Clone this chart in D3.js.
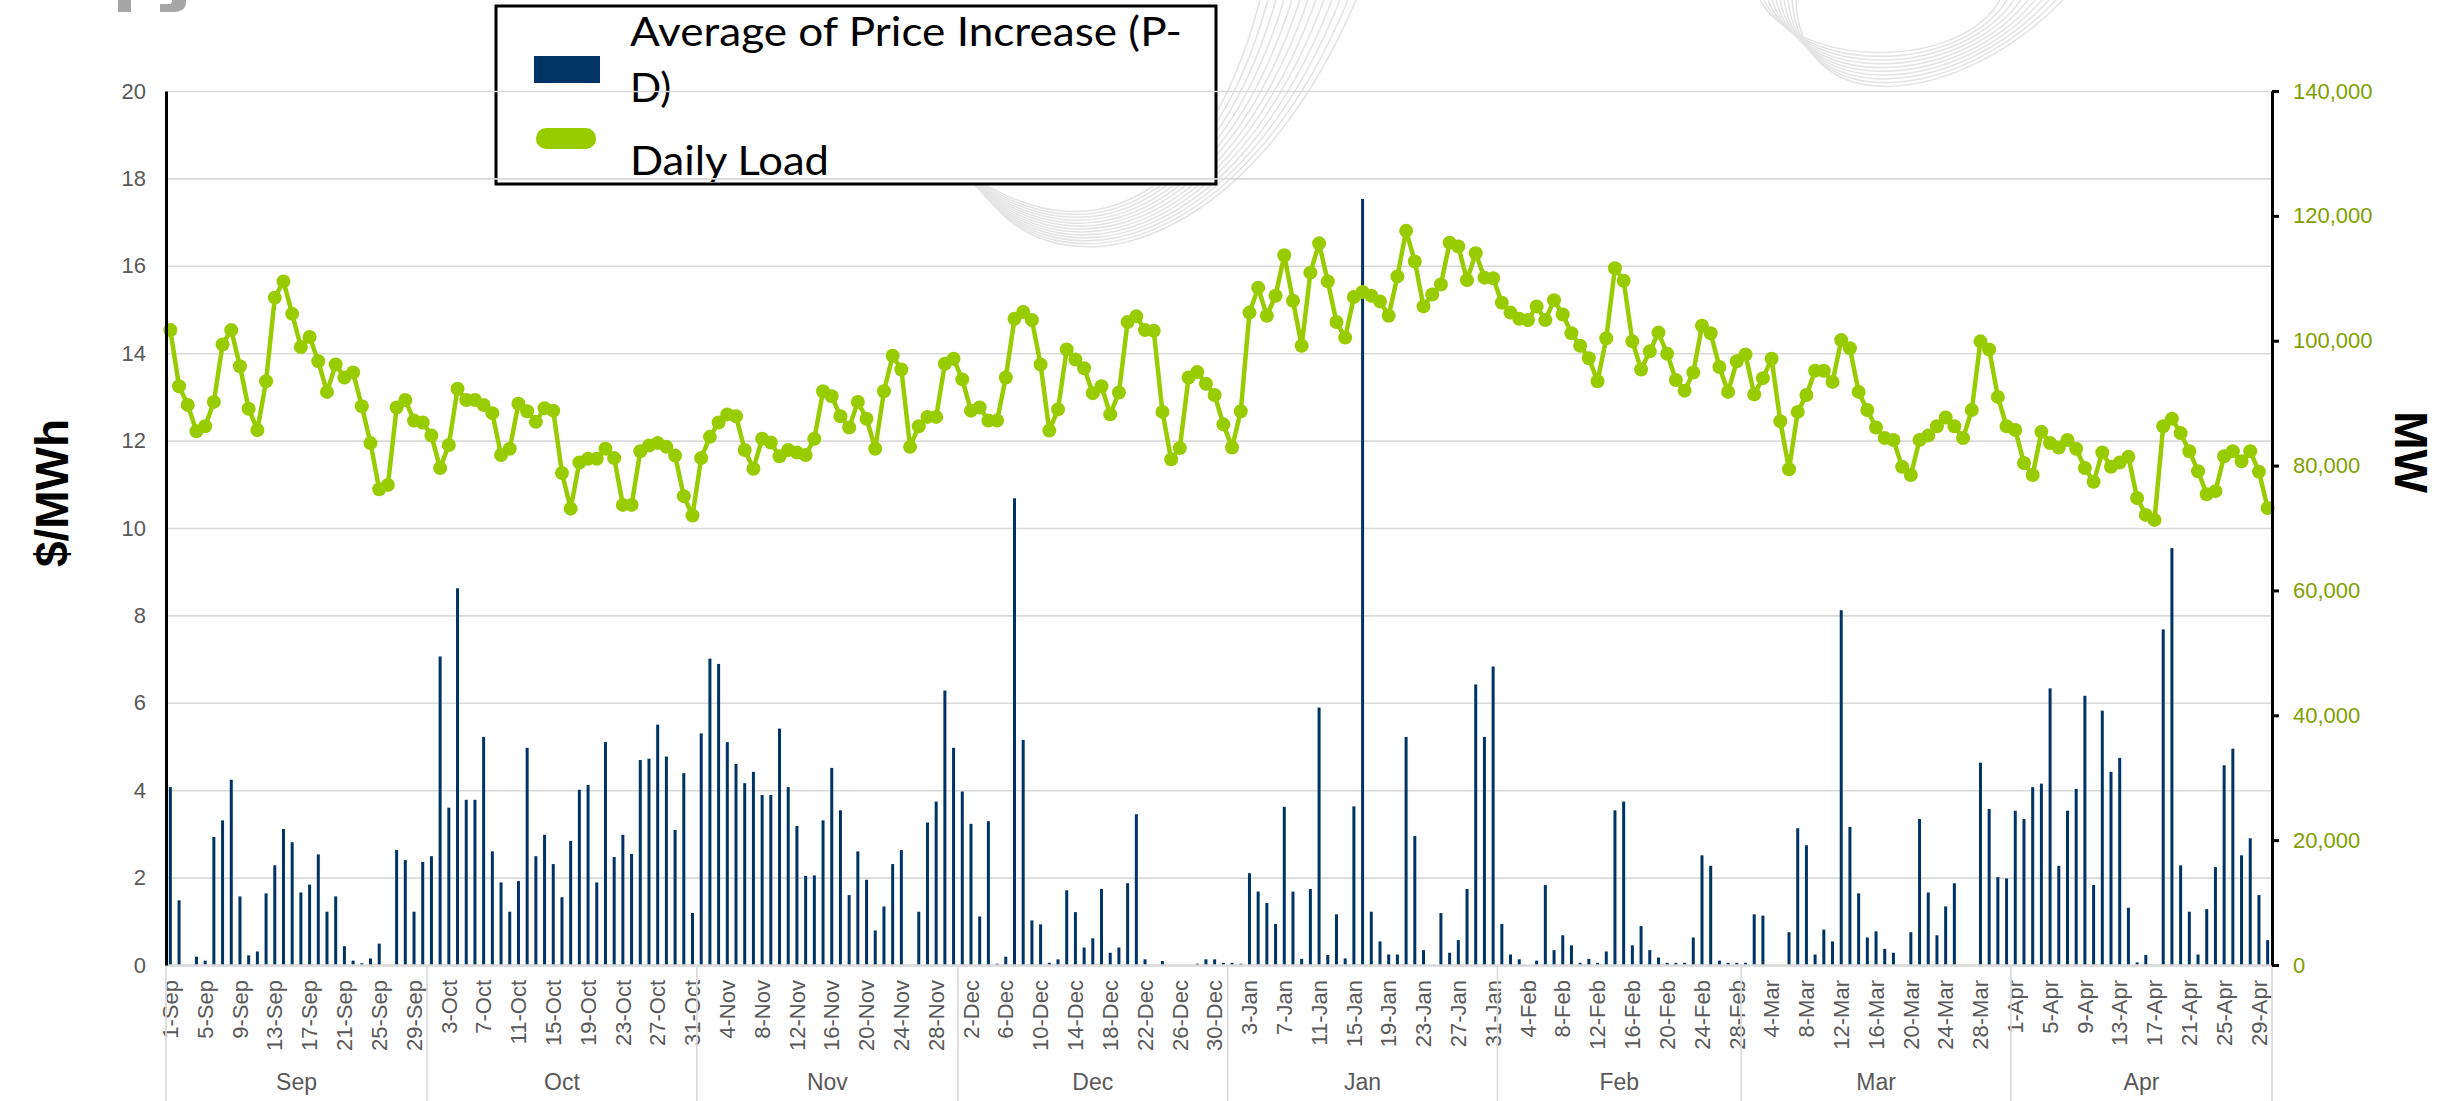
<!DOCTYPE html>
<html>
<head>
<meta charset="utf-8">
<script src="https://cdn.jsdelivr.net/npm/d3@7/dist/d3.min.js"></script>
<style>
  body { margin: 0; background: #fff; }
  svg { display: block; }
</style>
</head>
<body>
<div id="chart"></div>
<script>
// category axis: months and how many days each has
var months = ["Sep", "Oct", "Nov", "Dec", "Jan", "Feb", "Mar", "Apr"];
var monthDays = [30, 31, 30, 31, 31, 28, 31, 30];

// Average of Price Increase (P-D), $/MWh, one value per day
var priceIncrease = [
  // Sep
  4.07, 1.48, 0, 0.19, 0.1, 2.93, 3.31, 4.24, 1.57, 0.22, 0.31, 1.64, 2.28, 3.11, 2.81,
  1.66, 1.84, 2.53, 1.22, 1.57, 0.43, 0.1, 0.04, 0.15, 0.49, 0, 2.63, 2.4, 1.22, 2.36,
  // Oct
  2.49, 7.06, 3.6, 8.62, 3.78, 3.78, 5.22, 2.6, 1.89, 1.22, 1.92, 4.97, 2.49, 2.98, 2.31,
  1.55, 2.84, 4.01, 4.12, 1.89, 5.1, 2.47, 2.98, 2.54, 4.69, 4.72, 5.5, 4.77, 3.09, 4.39, 1.19,
  // Nov
  5.3, 7.01, 6.89, 5.1, 4.6, 4.16, 4.42, 3.89, 3.89, 5.41, 4.07, 3.18, 2.04, 2.05, 3.31,
  4.51, 3.54, 1.6, 2.6, 1.95, 0.79, 1.34, 2.31, 2.63, 0, 1.22, 3.26, 3.74, 6.28, 4.97,
  // Dec
  3.97, 3.23, 1.11, 3.29, 0.03, 0.19, 10.68, 5.15, 1.02, 0.93, 0.05, 0.13, 1.71, 1.21, 0.4,
  0.61, 1.74, 0.28, 0.4, 1.87, 3.45, 0.13, 0, 0.09, 0, 0, 0, 0.03, 0.13, 0.13, 0.05,
  // Jan
  0.05, 0.03, 2.1, 1.68, 1.42, 0.94, 3.62, 1.68, 0.14, 1.74, 5.89, 0.23, 1.16, 0.15, 3.63,
  17.53, 1.22, 0.54, 0.24, 0.24, 5.22, 2.95, 0.34, 0, 1.19, 0.28, 0.57, 1.74, 6.42, 5.22, 6.83,
  // Feb
  0.94, 0.24, 0.13, 0, 0.1, 1.83, 0.34, 0.68, 0.45, 0.05, 0.14, 0.05, 0.31, 3.54, 3.74,
  0.45, 0.89, 0.34, 0.17, 0.05, 0.05, 0.05, 0.63, 2.51, 2.27, 0.1, 0.05, 0.05,
  // Mar
  0.05, 1.16, 1.13, 0, 0, 0.75, 3.13, 2.74, 0.24, 0.81, 0.54, 8.12, 3.16, 1.64, 0.63,
  0.77, 0.37, 0.28, 0, 0.75, 3.34, 1.66, 0.68, 1.34, 1.87, 0, 0, 4.63, 3.57, 2.01, 1.98,
  // Apr
  3.53, 3.34, 4.07, 4.15, 6.33, 2.27, 3.53, 4.03, 6.16, 1.83, 5.82, 4.42, 4.74, 1.31, 0.06,
  0.23, 0, 7.68, 9.54, 2.28, 1.22, 0.24, 1.28, 2.24, 4.57, 4.95, 2.51, 2.9, 1.6, 0.57
];

// Daily Load, MW
var dailyLoad = [
  // Sep
  101700, 92700, 89700, 85500, 86300, 90200, 99400, 101700, 95900, 89100, 85700, 93500, 106900, 109500, 104300,
  99000, 100600, 96700, 91800, 96200, 94100, 94900, 89500, 83600, 76200, 76900, 89300, 90500, 87200, 86900,
  // Oct
  84800, 79600, 83300, 92300, 90500, 90500, 89700, 88400, 81700, 82700, 89900, 88700, 87000, 89200, 88800,
  78800, 73100, 80500, 81100, 81100, 82700, 81200, 73700, 73700, 82300, 83200, 83600, 83000, 81600, 75100, 72000,
  // Nov
  81200, 84600, 86900, 88200, 87900, 82500, 79500, 84300, 83700, 81500, 82500, 82100, 81700, 84300, 91900,
  91100, 87900, 86100, 90200, 87500, 82700, 91900, 97600, 95400, 83000, 86300, 87800, 87800, 96300, 97100,
  // Dec
  93800, 88800, 89300, 87200, 87200, 94100, 103500, 104600, 103300, 96200, 85600, 89000, 98600, 97000, 95600,
  91600, 92700, 88200, 91700, 103000, 103900, 101700, 101600, 88600, 81000, 82800, 94100, 95000, 93100, 91300, 86600,
  // Jan
  82900, 88700, 104500, 108500, 104000, 107200, 113700, 106400, 99200, 110900, 115600, 109500, 103000, 100500, 107000,
  107800, 107200, 106300, 104000, 110300, 117600, 112700, 105500, 107400, 109000, 115700, 115100, 109700, 114000, 110100, 110000,
  // Feb
  106100, 104500, 103500, 103300, 105500, 103300, 106500, 104200, 101200, 99200, 97200, 93500, 100400, 111600, 109600,
  99900, 95400, 98300, 101300, 97900, 93700, 92000, 94900, 102400, 101200, 95800, 91800, 96700,
  // Mar
  97800, 91400, 94000, 97100, 87100, 79400, 88600, 91300, 95200, 95200, 93400, 100100, 98800, 91800, 88900,
  86100, 84400, 84100, 79800, 78500, 84100, 84800, 86300, 87700, 86300, 84400, 88900, 99900, 98600, 91000, 86300,
  // Apr
  85700, 80400, 78500, 85400, 83600, 82900, 84100, 82700, 79600, 77400, 82100, 79800, 80500, 81400, 74800,
  72100, 71300, 86300, 87500, 85200, 82300, 79100, 75400, 75900, 81500, 82300, 80700, 82300, 79000, 73200
];

var leftTicks = [0, 2, 4, 6, 8, 10, 12, 14, 16, 18, 20];
var rightTicks = [0, 20000, 40000, 60000, 80000, 100000, 120000, 140000];
var seriesNames = ["Average of Price Increase (P-", "D)", "Daily Load"];

var w = 2453;
var h = 1101;
var plotLeft = 166, plotRight = 2272, plotTop = 91, plotBottom = 965;

// build the day categories ("1-Sep" ...) and remember where each month starts
var categories = [];
var monthStart = [];
months.forEach(function(m, mi) {
  monthStart.push(categories.length);
  for (var d = 1; d <= monthDays[mi]; d++) {
    categories.push(d + "-" + m);
  }
});
var tickLabels = categories.filter(function(c, i) { return i % 4 === 0; });

var svg = d3.select("#chart").append("svg")
  .attr("width", w)
  .attr("height", h)
  .style("background", "#fff");

//SCALES
var xScale = d3.scaleBand()
  .domain(categories)
  .range([plotLeft, plotRight])
  .padding(0);

var yLeft = d3.scaleLinear()
  .domain([0, 20])
  .range([plotBottom, plotTop]);

var yRight = d3.scaleLinear()
  .domain([0, 140000])
  .range([plotBottom, plotTop]);

var bw = xScale.bandwidth();
function cx(c) { return xScale(c) + bw / 2; }

//BACKGROUND SWOOSH (faint watermark lines)
var swoosh = svg.append("g")
  .attr("fill", "none")
  .attr("stroke", "#e4e4e4")
  .attr("stroke-width", 1.6);
d3.range(13).forEach(function(k) {
  swoosh.append("path")
    .attr("d", "M" + (940 + k * 4) + "," + (150 + k * 4) +
      " C1060," + (260 + k * 3) + " " + (1200 + k * 4) + "," + (230 + k * 2) +
      " " + (1260 + k * 8) + ",0");
});
d3.range(10).forEach(function(k) {
  swoosh.append("path")
    .attr("d", "M" + (1760 + k * 4) + ",0 C1800," + (70 + k * 6) + " 1960," + (70 + k * 4) +
      " " + (2000 + k * 7) + ",0");
});

// bottom of a cut-off grey title at the top left (only a sliver shows)
svg.append("path")
  .attr("d", "M118,0 L131,0 L131,12 L118,12 Z M172,0 L186,0 L186,4 Q184,12 174,12 L160,12 L160,4 L170,4 Q172,4 172,0 Z")
  .attr("fill", "#a6a6a6");

//LEGEND (sits under the plot area)
var legend = svg.append("g").attr("class", "legend");
legend.append("rect")
  .attr("x", 496).attr("y", 6)
  .attr("width", 720).attr("height", 178)
  .attr("fill", "#fff")
  .attr("stroke", "#000")
  .attr("stroke-width", 3);
legend.append("rect")
  .attr("x", 534).attr("y", 56)
  .attr("width", 66).attr("height", 27)
  .attr("fill", "#003366");
legend.append("rect")
  .attr("x", 536).attr("y", 128)
  .attr("width", 60).attr("height", 21)
  .attr("rx", 10).attr("ry", 10)
  .attr("fill", "#99cc00");
var legendText = [
  {t: seriesNames[0], y: 46, len: 552},
  {t: seriesNames[1], y: 102, len: null},
  {t: seriesNames[2], y: 175, len: 199}
];
legendText.forEach(function(d) {
  var t = legend.append("text")
    .attr("x", 630)
    .attr("y", d.y)
    .style("font-family", "Lato, 'Open Sans', sans-serif")
    .style("font-size", "41px")
    .attr("fill", "#000")
    .text(d.t);
  if (d.len) t.attr("textLength", d.len).attr("lengthAdjust", "spacingAndGlyphs");
});

//GRIDLINES
var grid = svg.append("g")
  .attr("class", "grid")
  .attr("transform", "translate(" + plotLeft + ",0)")
  .call(d3.axisLeft(yLeft)
    .tickValues(leftTicks.slice(1))
    .tickSize(-(plotRight - plotLeft))
    .tickFormat(""));
grid.select(".domain").remove();
grid.selectAll("line").attr("stroke", "#d9d9d9").attr("stroke-width", 1.6);

//BARS
svg.append("g")
  .selectAll("rect")
  .data(priceIncrease)
  .enter()
  .append("rect")
  .attr("x", function(d, i) { return cx(categories[i]) - 1.5; })
  .attr("width", 3)
  .attr("y", function(d) { return yLeft(d); })
  .attr("height", function(d) { return yLeft(0) - yLeft(d); })
  .attr("fill", "#003366");

//CATEGORY AXIS
var xAxis = svg.append("g")
  .attr("class", "x-axis")
  .attr("transform", "translate(0," + plotBottom + ")")
  .call(d3.axisBottom(xScale).tickValues(tickLabels).tickSize(0).tickSizeOuter(0));
xAxis.select(".domain").attr("stroke", "#d9d9d9").attr("stroke-width", 2.5);
xAxis.selectAll("text")
  .attr("transform", "rotate(-90)")
  .attr("x", -15)
  .attr("y", 0)
  .attr("dy", "0.35em")
  .style("text-anchor", "end")
  .style("font-family", "Liberation Sans, Arial, sans-serif")
  .style("font-size", "22px")
  .attr("fill", "#595959");

// month dividers and month labels
var monthEdges = monthStart.map(function(s) { return xScale(categories[s]); }).concat([plotRight]);
svg.append("g")
  .selectAll("line")
  .data(monthEdges)
  .enter()
  .append("line")
  .attr("x1", function(d) { return d; })
  .attr("x2", function(d) { return d; })
  .attr("y1", plotBottom)
  .attr("y2", h)
  .attr("stroke", "#d9d9d9")
  .attr("stroke-width", 1.6);

svg.append("g")
  .selectAll("text")
  .data(months)
  .enter()
  .append("text")
  .attr("x", function(d, i) { return (monthEdges[i] + monthEdges[i + 1]) / 2; })
  .attr("y", 1090)
  .attr("text-anchor", "middle")
  .style("font-family", "Liberation Sans, Arial, sans-serif")
  .style("font-size", "23px")
  .attr("fill", "#595959")
  .text(function(d) { return d; });

//LINE
var line = d3.line()
  .x(function(d, i) { return cx(categories[i]); })
  .y(function(d) { return yRight(d); });

svg.append("path")
  .datum(dailyLoad)
  .attr("d", line)
  .attr("fill", "none")
  .attr("stroke", "#99cc00")
  .attr("stroke-width", 4.5)
  .attr("stroke-linejoin", "round");

svg.append("g")
  .selectAll("circle")
  .data(dailyLoad)
  .enter()
  .append("circle")
  .attr("cx", function(d, i) { return cx(categories[i]); })
  .attr("cy", function(d) { return yRight(d); })
  .attr("r", 7)
  .attr("fill", "#99cc00");

//AXES
var leftAxis = svg.append("g")
  .attr("transform", "translate(" + plotLeft + ",0)")
  .call(d3.axisLeft(yLeft).tickValues(leftTicks).tickSize(0).tickSizeOuter(0).tickPadding(20));
leftAxis.select(".domain").attr("stroke", "#000").attr("stroke-width", 3);
leftAxis.selectAll("text")
  .style("font-family", "Liberation Sans, Arial, sans-serif")
  .style("font-size", "22px")
  .attr("fill", "#595959");

var rightAxis = svg.append("g")
  .attr("transform", "translate(" + plotRight + ",0)")
  .call(d3.axisRight(yRight).tickValues(rightTicks).tickSize(7).tickSizeOuter(0)
    .tickPadding(14).tickFormat(d3.format(",")));
rightAxis.select(".domain").attr("stroke", "#000").attr("stroke-width", 3);
rightAxis.selectAll("line").attr("stroke", "#000").attr("stroke-width", 3);
rightAxis.selectAll("text")
  .style("font-family", "Liberation Sans, Arial, sans-serif")
  .style("font-size", "22px")
  .attr("fill", "#7f9f00");

//AXIS TITLES
svg.append("text")
  .attr("transform", "translate(52," + 493 + ") rotate(-90)")
  .attr("text-anchor", "middle")
  .attr("dominant-baseline", "central")
  .style("font-family", "Liberation Sans, Arial, sans-serif")
  .style("font-weight", "bold")
  .style("font-size", "46px")
  .attr("fill", "#000")
  .text("$/MWh");

svg.append("text")
  .attr("transform", "translate(2411," + 452 + ") rotate(90)")
  .attr("text-anchor", "middle")
  .attr("dominant-baseline", "central")
  .style("font-family", "Liberation Sans, Arial, sans-serif")
  .style("font-weight", "bold")
  .style("font-size", "46px")
  .attr("fill", "#000")
  .text("MW");
</script>
</body>
</html>
